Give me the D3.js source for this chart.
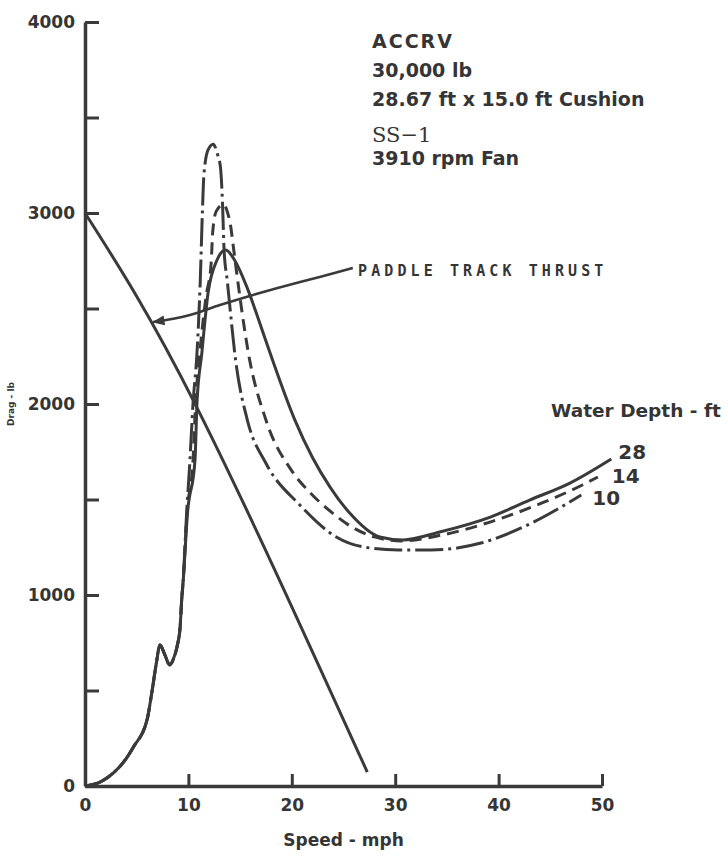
<!DOCTYPE html>
<html>
<head>
<meta charset="utf-8">
<script src="https://cdn.jsdelivr.net/npm/d3@7"></script>
<style>
  body { margin: 0; background: #fff; }
  svg text { font-family: "DejaVu Sans", sans-serif; font-weight: bold; fill: #353535; }
</style>
</head>
<body>
<svg id="chart" width="728" height="856"></svg>
<script>
// speed in mph, drag/thrust in lb
const riseShared = [[0, 0], [1.5, 22], [2.7, 66], [3.8, 130], [4.7, 206], [6.0, 346], [6.45, 485], [6.9, 643],
  [7.25, 738], [7.7, 690], [8.2, 634], [8.55, 665], [8.9, 729], [9.2, 832], [9.35, 974], [9.5, 1078]];

const depth28 = [[9.9, 1420], [10.64, 1707], [10.83, 2005], [11.3, 2267], [11.9, 2581], [12.77, 2754], [13.6, 2806],
  [14.5, 2750], [15.65, 2613], [16.8, 2440], [17.9, 2267], [20.3, 1916], [22.0, 1720], [23.7, 1565], [25.6, 1429],
  [28.5, 1304], [30.75, 1288], [34.3, 1330], [39.2, 1408], [43.0, 1497], [46.9, 1586], [50.9, 1712]];

const depth14 = [[9.85, 1420], [10.45, 1707], [10.7, 2005], [11.1, 2267], [11.7, 2560], [12.2, 2737], [12.35, 2900],
  [12.7, 3010], [13.4, 3045], [13.8, 3000], [14.1, 2927], [14.3, 2843], [14.85, 2613], [15.8, 2267], [17.5, 1916],
  [20.0, 1650], [21.8, 1534], [23.8, 1435], [26.0, 1350], [28.0, 1304], [30.6, 1283], [34.5, 1314], [40.6, 1408],
  [44.2, 1482], [48.1, 1576], [49.6, 1618]];

const depth10 = [[9.8, 1400], [10.15, 1707], [10.45, 2005], [10.83, 2267], [11.15, 2650], [11.35, 3000], [11.5, 3200],
  [11.9, 3330], [12.4, 3360], [12.8, 3310], [13.1, 3240], [13.3, 3050], [13.45, 2806], [13.75, 2650], [14.6, 2215],
  [15.7, 1916], [17.5, 1690], [20.8, 1470], [24.3, 1304], [27.0, 1251], [30.3, 1236], [33.5, 1236], [38.3, 1272],
  [43.2, 1377], [48.0, 1524]];

const paddleThrust = [[0, 3000], [10.8, 1984], [27.3, 73]];
const thrustLeader = [[25.9, 2712], [22.7, 2665], [20.8, 2639], [16.25, 2571], [13.05, 2518], [10.15, 2466], [6.6, 2429]];

const xTicks = [0, 10, 20, 30, 40, 50];
const yTicks = [0, 1000, 2000, 3000, 4000];
const yMinorTicks = [500, 1500, 2500, 3500];
const depthNames = ["28", "14", "10"];
const noteLines = ["ACCRV", "30,000 lb", "28.67 ft x 15.0 ft Cushion", "SS\u22121", "3910 rpm Fan"];

const ink = "#3a3a3a";
const svg = d3.select("#chart");

const x = d3.scaleLinear().domain([0, 50]).range([85, 602]);
const y = d3.scaleLinear().domain([0, 4000]).range([786, 22]);

const line = d3.line()
  .x((d) => x(d[0]))
  .y((d) => y(d[1]))
  .curve(d3.curveMonotoneX);

// axes - ticks point inward like the original
svg.append("g")
  .attr("transform", `translate(${x(0)},0)`)
  .call(d3.axisLeft(y).tickValues(yTicks).tickSizeInner(-14).tickSizeOuter(0).tickPadding(10).tickFormat(d3.format("d")));
svg.append("g")
  .attr("transform", `translate(${x(0)},0)`)
  .call(d3.axisLeft(y).tickValues(yMinorTicks).tickSize(-14).tickFormat(""))
  .call((g) => g.select(".domain").remove());

svg.append("g")
  .attr("transform", `translate(0,${y(0)})`)
  .call(d3.axisBottom(x).tickValues(xTicks).tickSizeInner(-12).tickSizeOuter(0).tickPadding(13));

svg.selectAll(".domain").attr("stroke", ink).attr("stroke-width", 3.5);
svg.selectAll(".tick line").attr("stroke", ink).attr("stroke-width", 3);
svg.selectAll(".tick text").style("font-size", "17px").attr("fill", "#353535");

svg.append("text")
  .attr("transform", `translate(14,${y(2000)}) rotate(-90)`)
  .attr("text-anchor", "middle")
  .style("font-size", "9px")
  .text("Drag - lb");

svg.append("text")
  .attr("x", x(25))
  .attr("y", 846)
  .attr("text-anchor", "middle")
  .style("font-size", "17px")
  .text("Speed - mph");

// drag curves for each water depth
const series = [
  { name: depthNames[0], data: riseShared.concat(depth28), dash: null, dx: 7, dy: 0 },
  { name: depthNames[1], data: riseShared.concat(depth14), dash: "12,7", dx: 14, dy: 6 },
  { name: depthNames[2], data: riseShared.concat(depth10), dash: "28,5,3,5", dx: 11, dy: 10 },
];

svg.selectAll(".drag")
  .data(series)
  .enter()
  .append("path")
  .attr("class", "drag")
  .attr("fill", "none")
  .attr("stroke", ink)
  .attr("stroke-width", 3)
  .attr("stroke-dasharray", (d) => d.dash)
  .attr("d", (d) => line(d.data));

svg.selectAll(".depth-label")
  .data(series)
  .enter()
  .append("text")
  .attr("class", "depth-label")
  .attr("x", (d) => x(d.data[d.data.length - 1][0]) + d.dx)
  .attr("y", (d) => y(d.data[d.data.length - 1][1]) + d.dy)
  .style("font-size", "20px")
  .text((d) => d.name);

svg.append("text")
  .attr("x", 551)
  .attr("y", 417)
  .style("font-size", "18.5px")
  .text("Water Depth - ft");

// paddle track thrust line + leader
svg.append("path")
  .attr("fill", "none")
  .attr("stroke", ink)
  .attr("stroke-width", 3)
  .attr("d", d3.line().x((d) => x(d[0])).y((d) => y(d[1])).curve(d3.curveNatural)(paddleThrust));

svg.append("defs")
  .append("marker")
  .attr("id", "arrow")
  .attr("viewBox", "0 0 10 10")
  .attr("refX", 9)
  .attr("refY", 5)
  .attr("markerWidth", 5)
  .attr("markerHeight", 5)
  .attr("orient", "auto")
  .append("path")
  .attr("d", "M0,1L10,5L0,9Z")
  .attr("fill", ink);

svg.append("path")
  .attr("fill", "none")
  .attr("stroke", ink)
  .attr("stroke-width", 2.5)
  .attr("marker-end", "url(#arrow)")
  .attr("d", d3.line().x((d) => x(d[0])).y((d) => y(d[1])).curve(d3.curveMonotoneX)(thrustLeader));

svg.append("text")
  .attr("x", 358)
  .attr("y", 276)
  .style("font-family", "'DejaVu Sans Mono', monospace")
  .style("font-size", "15px")
  .style("letter-spacing", "4.1px")
  .text("PADDLE TRACK THRUST");

// test condition block
const noteY = [48, 77, 106, 142, 165];
svg.selectAll(".note")
  .data(noteLines)
  .enter()
  .append("text")
  .attr("class", "note")
  .attr("x", 372)
  .attr("y", (d, i) => noteY[i])
  .style("letter-spacing", (d, i) => (i === 0 ? "2px" : null))
  .style("font-family", (d, i) => (i === 3 ? "'DejaVu Serif', serif" : null))
  .style("font-weight", (d, i) => (i === 3 ? "normal" : null))
  .style("font-size", (d, i) => (i === 3 ? "21px" : "19px"))
  .text((d) => d);
</script>
</body>
</html>
